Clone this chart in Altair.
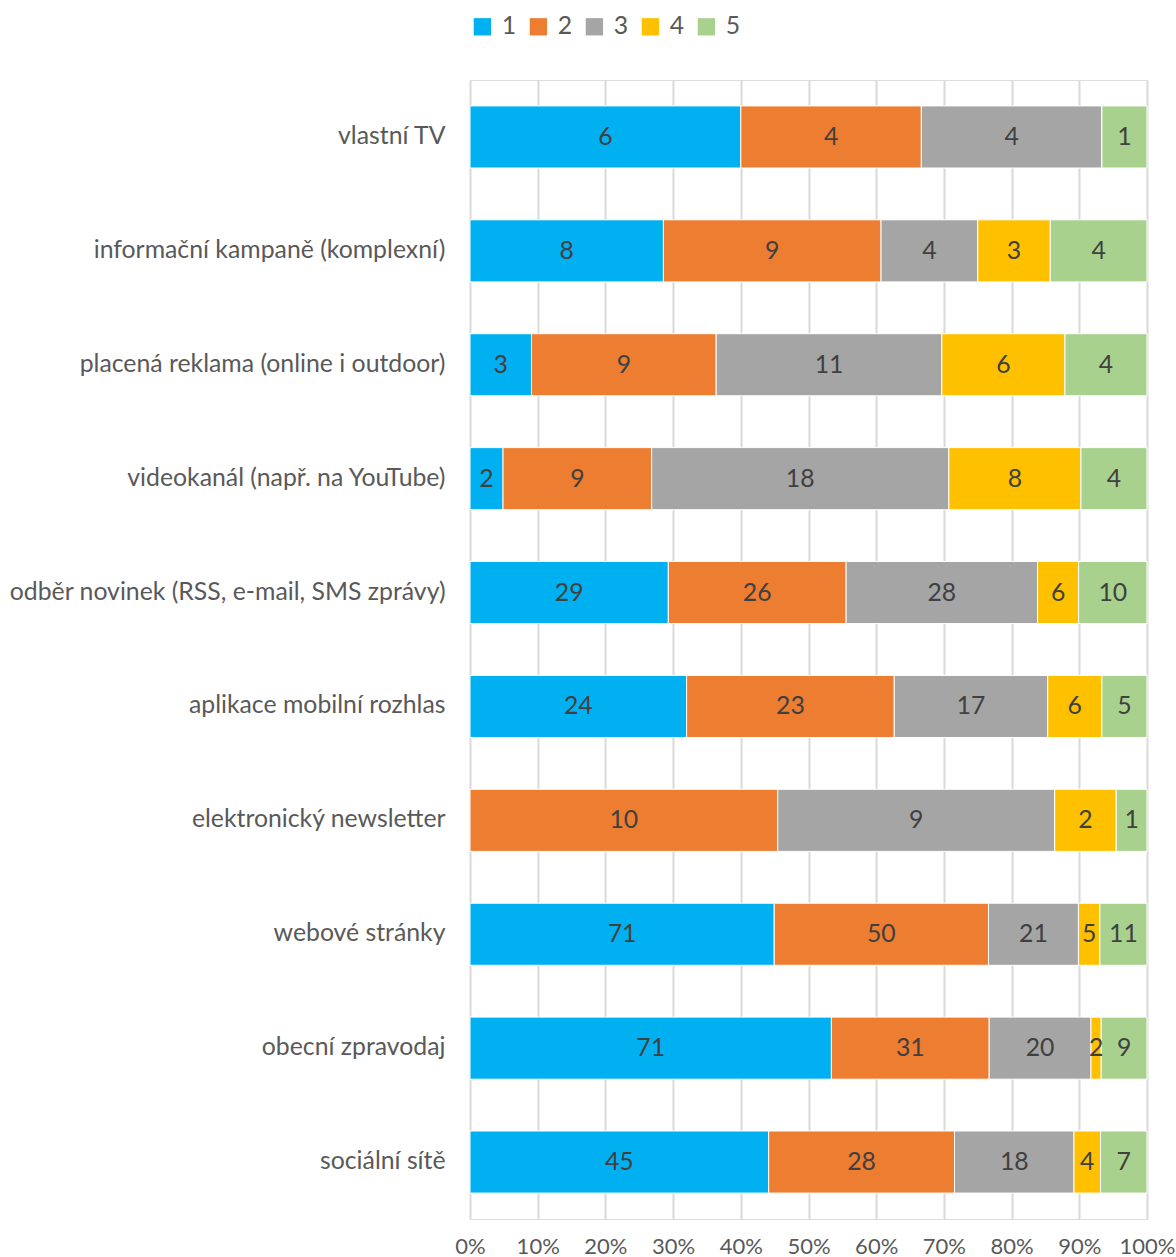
import altair as alt
import pandas as pd

categories = [
    "vlastní TV",
    "informační kampaně (komplexní)",
    "placená reklama (online i outdoor)",
    "videokanál (např. na YouTube)",
    "odběr novinek (RSS, e-mail, SMS zprávy)",
    "aplikace mobilní rozhlas",
    "elektronický newsletter",
    "webové stránky",
    "obecní zpravodaj",
    "sociální sítě",
]
series_names = ["1", "2", "3", "4", "5"]
s1 = [6, 8, 3, 2, 29, 24, 0, 71, 71, 45]
s2 = [4, 9, 9, 9, 26, 23, 10, 50, 31, 28]
s3 = [4, 4, 11, 18, 28, 17, 9, 21, 20, 18]
s4 = [0, 3, 6, 8, 6, 6, 2, 5, 2, 4]
s5 = [1, 4, 4, 4, 10, 5, 1, 11, 9, 7]
colors = ["#00B0F0", "#ED7D31", "#A5A5A5", "#FFC000", "#A9D18E"]
tick_values = [0, 0.1, 0.2, 0.3, 0.4, 0.5, 0.6, 0.7, 0.8, 0.9, 1.0]

FONT = "Lato"
FS = 24.8
FSX = 22

rows = []
for si, (name, vals) in enumerate(zip(series_names, [s1, s2, s3, s4, s5])):
    for c, v in zip(categories, vals):
        rows.append({"kategorie": c, "serie": name, "ord": si, "hodnota": v})
df = pd.DataFrame(rows)

base = alt.Chart(df).transform_joinaggregate(
    total="sum(hodnota)", groupby=["kategorie"]
).transform_window(
    cum="sum(hodnota)", groupby=["kategorie"], sort=[alt.SortField("ord", order="ascending")],
    frame=[None, 0]
).transform_calculate(
    x_end="datum.cum / datum.total",
    x_start="(datum.cum - datum.hodnota) / datum.total",
    x_mid="(datum.cum - datum.hodnota / 2) / datum.total",
)

y_enc = alt.Y(
    "kategorie:N", sort=categories, title=None,
    scale=alt.Scale(paddingInner=0.455, paddingOuter=0.2275),
    axis=alt.Axis(labelFont=FONT, labelFontSize=FS, labelColor="#595959", labelPadding=25,
                  labelLimit=600, ticks=False, domain=False, grid=False),
)
x_scale = alt.Scale(domain=[0, 1], nice=False)

bars = base.mark_bar(stroke="white", strokeWidth=1).encode(
    y=y_enc,
    x=alt.X("x_start:Q", scale=x_scale, title=None,
            axis=alt.Axis(format=".0%", values=tick_values, labelFont=FONT, labelFontSize=FSX,
                          labelColor="#595959", labelPadding=17, ticks=False, domain=False,
                          grid=True, gridColor="#D9D9D9", gridWidth=2, labelFlush=False)),
    x2="x_end:Q",
    color=alt.Color("serie:N", scale=alt.Scale(domain=series_names, range=colors),
                    legend=alt.Legend(title=None, orient="none", direction="horizontal",
                                      legendX=0, legendY=-66, symbolType="square",
                                      symbolSize=300, symbolStrokeWidth=0, labelFont=FONT,
                                      labelFontSize=FS, labelColor="#595959",
                                      columnPadding=9, labelOffset=7)),
)

texts = base.transform_filter("datum.hodnota > 0").mark_text(
    font=FONT, fontSize=FS, color="#404040", baseline="middle", align="center", dy=1
).encode(
    y=alt.Y("kategorie:N", sort=categories),
    x=alt.X("x_mid:Q", scale=x_scale),
    text="hodnota:Q",
)

chart = (bars + texts).properties(
    width=677, height=1139,
    autosize=alt.AutoSizeParams(type="none"),
    padding={"left": 470, "top": 80, "right": 29, "bottom": 38},
).configure_view(stroke=None).configure(background="white")

chart.save("out.html", embed_options={"renderer": "svg", "actions": False})
